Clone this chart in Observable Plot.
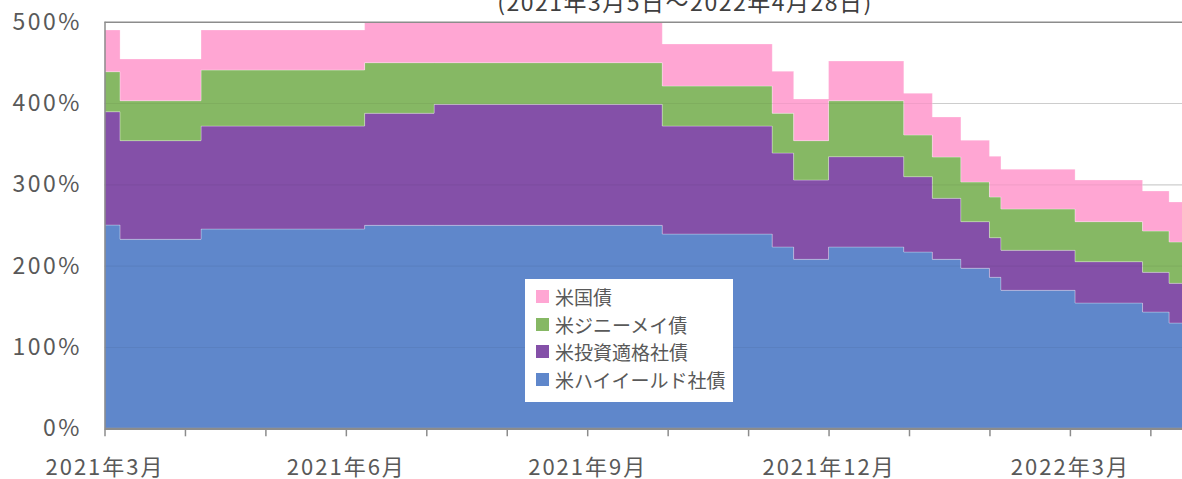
<!DOCTYPE html>
<html>
<head>
<meta charset="utf-8">
<script src="https://cdn.jsdelivr.net/npm/d3@7"></script>
<script src="https://cdn.jsdelivr.net/npm/@observablehq/plot@0.6"></script>
<style>
  html, body { margin: 0; padding: 0; background: #fff; }
  body { font-family: "Noto Sans CJK JP", "Noto Sans", sans-serif; }
  #wrap { position: relative; width: 1182px; height: 479px; overflow: hidden; }
  #sub { position: absolute; left: 0; top: -10px; width: 1182px; text-align: center; padding-left: 188px; box-sizing: border-box;
         font-size: 23px; line-height: 23px; letter-spacing: 1.5px; color: #404040; white-space: nowrap; }
  #chart { position: absolute; left: 0; top: 0; }
  #chart svg g[aria-label="y-axis tick label"] text { letter-spacing: 2.5px; }
  #chart svg g[aria-label="x-axis tick label"] text { letter-spacing: 2px; }
  #legend { position: absolute; left: 525px; top: 279px; width: 208px; height: 123px; background: #fff;
            box-sizing: border-box; padding-top: 4px; }
  .row { height: 27.5px; display: flex; align-items: center; font-size: 19px; color: #595959; }
  .sw { width: 13px; height: 13px; margin-left: 11px; margin-right: 6px; flex: none; }
</style>
</head>
<body>
<div id="wrap">
  <div id="chart"></div>
  <div id="sub">(2021年3月5日～2022年4月28日)</div>
  <div id="legend"></div>
</div>
<script>
// ---- data ----
const series = ["米ハイイールド社債", "米投資適格社債", "米ジニーメイ債", "米国債"];
const colors = ["#5F87CB", "#8450A8", "#86B864", "#FFA6D3"];
const legendOrder = ["米国債", "米ジニーメイ債", "米投資適格社債", "米ハイイールド社債"];

const dates = ["2021-03-05","2021-03-11","2021-04-11","2021-06-12","2021-07-08","2021-10-03",
               "2021-11-14","2021-11-22","2021-12-05","2022-01-03","2022-01-14","2022-01-25",
               "2022-02-05","2022-02-09","2022-03-07","2022-04-02","2022-04-12","2022-04-28"];

const highYield  = [250.0, 232.4, 245.1, 249.6, 249.6, 238.9, 223.0, 207.8, 223.0, 216.8, 207.8, 196.8, 185.7, 169.7, 154.1, 143.0, 129.5];
const investGrade = [139.3, 121.3, 126.6, 137.8, 148.8, 132.8, 115.5, 97.5, 111.0, 92.6, 75.0, 57.3, 48.7, 49.2, 50.8, 48.8, 48.8];
const ginnieMae  = [49.2, 49.1, 68.9, 62.2, 51.2, 49.2, 48.9, 48.4, 68.8, 51.3, 50.8, 48.8, 50.0, 50.8, 49.2, 50.8, 50.8];
const treasury   = [51.3, 51.3, 49.2, 50.0, 50.0, 51.7, 51.6, 51.2, 48.8, 51.2, 49.2, 51.3, 50.1, 48.8, 51.2, 49.2, 49.2];

const yTicks = [0, 100, 200, 300, 400, 500];
const tickLabels = ["2021年3月","","","2021年6月","","","2021年9月","","","2021年12月","","","2022年3月",""];

// ---- category-like month axis: each tick is the 5th of a month, equally spaced ----
const anchors = d3.range(0, 16).map(k => new Date(Date.UTC(2021, 2 + k, 5)));
function monthPos(s) {
  const d = new Date(s + "T00:00:00Z");
  for (let k = 0; k < anchors.length - 1; k++) {
    if (d >= anchors[k] && d < anchors[k + 1]) return k + (d - anchors[k]) / (anchors[k + 1] - anchors[k]);
  }
  return anchors.length - 1;
}

const valuesBySeries = {
  "米ハイイールド社債": highYield,
  "米投資適格社債": investGrade,
  "米ジニーメイ債": ginnieMae,
  "米国債": treasury
};
const rows = [];
for (const s of series) {
  const arr = valuesBySeries[s];
  dates.forEach((dt, i) => rows.push({ series: s, pos: monthPos(dt), value: arr[Math.min(i, arr.length - 1)] }));
}

const W = 1182, H = 479;
const mL = 104.5, mT = 21.7, mB = 50.7;
const pxPerMonth = 80.45;

const chart = Plot.plot({
  width: W, height: H,
  marginLeft: mL, marginRight: 0, marginTop: mT, marginBottom: mB,
  style: { fontFamily: '"Noto Sans CJK JP", sans-serif', fontSize: "22px", color: "#595959", background: "transparent", overflow: "visible" },
  x: { type: "linear", domain: [0, (W - mL) / pxPerMonth], axis: null, label: null },
  y: { domain: [0, 500], axis: null, label: null },
  color: { domain: series, range: colors },
  marks: [
    Plot.gridY(yTicks.filter(v => v > 0 && v < 500), { stroke: "#d9d9d9", strokeOpacity: 1, strokeWidth: 1.2 }),
    Plot.areaY(rows, { x: "pos", y: "value", fill: "series", z: "series", order: series, curve: "step-after", clip: true,
                       stroke: "#ffffff", strokeOpacity: 0.25, strokeWidth: 1 }),
    Plot.gridY(yTicks.filter(v => v > 0 && v < 500), { stroke: "#000", strokeOpacity: 0.05, strokeWidth: 1.2 }),
    Plot.ruleY([500], { stroke: "#8c8c8c", strokeWidth: 1.5 }),
    Plot.ruleX([0], { stroke: "#8c8c8c", strokeWidth: 1.5 }),
    Plot.axisY({ ticks: yTicks, tickFormat: d => d + "%", tickSize: 0, tickPadding: 23, fontSize: 23, label: null }),
    Plot.axisX({ ticks: d3.range(0, 14), tickFormat: i => tickLabels[i], tickSize: 8, tickPadding: 23,
                 stroke: "#8c8c8c", strokeWidth: 1.5, fontSize: 22, label: null }),
    Plot.ruleY([0], { stroke: "#8c8c8c", strokeWidth: 2.2 })
  ]
});
document.getElementById("chart").appendChild(chart);

const legend = document.getElementById("legend");
for (const s of legendOrder) {
  const row = document.createElement("div");
  row.className = "row";
  const sw = document.createElement("div");
  sw.className = "sw";
  sw.style.background = colors[series.indexOf(s)];
  const t = document.createElement("span");
  t.textContent = s;
  row.appendChild(sw); row.appendChild(t);
  legend.appendChild(row);
}
</script>
</body>
</html>
